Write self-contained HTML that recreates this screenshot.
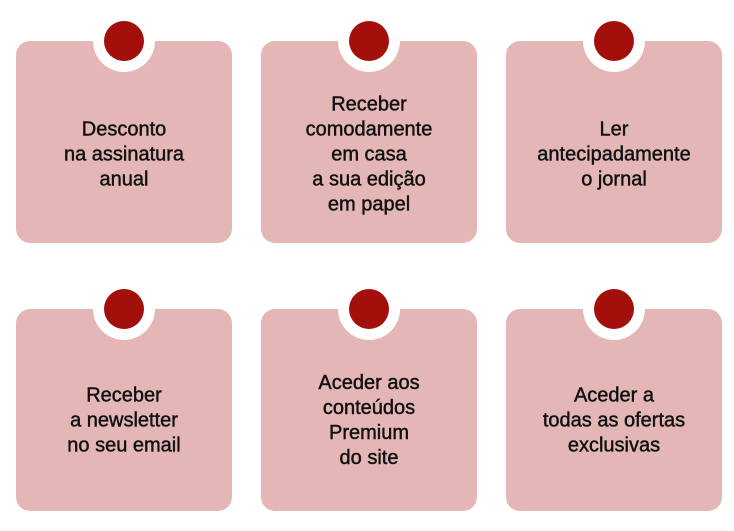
<!DOCTYPE html>
<html><head><style>
body{margin:0;width:734px;height:531px;background:#fff;position:relative;overflow:hidden;font-family:"Liberation Sans",sans-serif;}
.c{position:absolute;width:216px;height:202px;background:#e4b7b6;border-radius:14px;}
.w{position:absolute;width:62px;height:62px;border-radius:50%;background:#fff;left:77px;top:-31px;}
.r{position:absolute;width:40px;height:40px;border-radius:50%;background:#a30f0a;left:88px;top:-20px;}
.t{position:absolute;left:0;width:216px;text-align:center;font-size:20px;line-height:25px;color:#111;-webkit-text-stroke:0.45px #111;transform:translateY(-50%);}
</style></head><body>
<div class="c" style="left:16px;top:41px"><div class="w"></div><div class="r"></div><div class="t" style="top:114px">Desconto<br>na assinatura<br>anual</div></div>
<div class="c" style="left:261px;top:41px"><div class="w"></div><div class="r"></div><div class="t" style="top:114px">Receber<br>comodamente<br>em casa<br>a sua edição<br>em papel</div></div>
<div class="c" style="left:506px;top:41px"><div class="w"></div><div class="r"></div><div class="t" style="top:114px">Ler<br>antecipadamente<br>o jornal</div></div>
<div class="c" style="left:16px;top:309px"><div class="w"></div><div class="r"></div><div class="t" style="top:112px">Receber<br>a newsletter<br>no seu email</div></div>
<div class="c" style="left:261px;top:309px"><div class="w"></div><div class="r"></div><div class="t" style="top:112px">Aceder aos<br>conteúdos<br>Premium<br>do site</div></div>
<div class="c" style="left:506px;top:309px"><div class="w"></div><div class="r"></div><div class="t" style="top:112px">Aceder a<br>todas as ofertas<br>exclusivas</div></div>
</body></html>
